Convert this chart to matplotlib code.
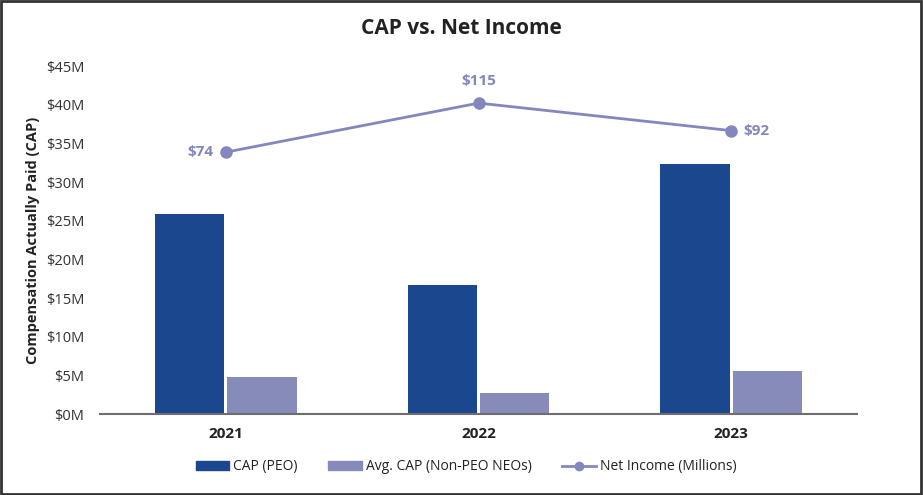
import matplotlib
matplotlib.use("Agg")
import matplotlib.pyplot as plt
import numpy as np
from matplotlib.patches import Rectangle
from matplotlib.lines import Line2D
from matplotlib.ticker import FuncFormatter

matplotlib.rcParams.update({"font.family": ["Open Sans", "DejaVu Sans"]})

years = ["2021", "2022", "2023"]
cap_peo = [25.9, 16.7, 32.3]        # $M
cap_neo = [4.8, 2.7, 5.6]           # $M
net_income = [74, 115, 92]          # $ millions

PEO_COLOR = "#1B478E"
NEO_COLOR = "#878BBA"
LINE_COLOR = "#8387BE"

fig = plt.figure(figsize=(9.23, 4.95), dpi=100)
ax = fig.add_axes([0.108, 0.1636, 0.821, 0.703])

x = np.arange(len(years))
w = 0.274
ax.bar(x - 0.143, cap_peo, width=w, color=PEO_COLOR, label="CAP (PEO)")
ax.bar(x + 0.143, cap_neo, width=w, color=NEO_COLOR, label="Avg. CAP (Non-PEO NEOs)")

ax.set_xlim(-0.5, 2.5)
ax.set_ylim(0, 45)
ax.set_yticks(np.arange(0, 46, 5))
ax.yaxis.set_major_formatter(FuncFormatter(lambda v, p: f"${v:.0f}M"))
ax.set_xticks(x)
ax.set_xticklabels(years, fontsize=11, fontweight="bold", color="#222222")
ax.tick_params(axis="both", length=0)
ax.tick_params(axis="y", labelsize=10.5, colors="#333333", pad=11)
ax.tick_params(axis="x", pad=9)
for s in ["top", "right", "left"]:
    ax.spines[s].set_visible(False)
ax.spines["bottom"].set_color("#6e6e6e")
ax.spines["bottom"].set_linewidth(1.5)
ax.set_ylabel("Compensation Actually Paid (CAP)", fontsize=10.5,
              fontweight="bold", color="#222222", labelpad=4)

ax2 = ax.twinx()
ax2.set_ylim(-145, 146)
ax2.axis("off")
ax2.plot(x, net_income, color=LINE_COLOR, linewidth=2, marker="o",
         markersize=8, label="Net Income (Millions)")
offsets = [(-9, 0, "right", "center"), (0, 11, "center", "bottom"), (9, 0, "left", "center")]
for xi, v, (dx, dy, ha, va) in zip(x, net_income, offsets):
    ax2.annotate(f"${v}", (xi, v), xytext=(dx, dy), textcoords="offset points",
                 ha=ha, va=va, fontsize=11, fontweight="bold", color=LINE_COLOR)

fig.suptitle("CAP vs. Net Income", y=0.943, va="center", fontsize=15,
             fontweight="bold", color="#222222")

handles = [
    Rectangle((0, 0), 1, 1, color=PEO_COLOR),
    Rectangle((0, 0), 1, 1, color=NEO_COLOR),
    Line2D([], [], color=LINE_COLOR, linewidth=2, marker="o", markersize=6),
]
labels = ["CAP (PEO)", "Avg. CAP (Non-PEO NEOs)", "Net Income (Millions)"]
fig.legend(handles, labels, loc="center", bbox_to_anchor=(0.505, 0.057), ncol=3,
           frameon=False, fontsize=10, handlelength=2.4, handleheight=0.6,
           handletextpad=0.3, columnspacing=2.2, labelcolor="#222222")

fig.patches.append(Rectangle((0.001, 0.002), 0.997, 0.995, transform=fig.transFigure,
                             fill=False, edgecolor="#333333", linewidth=2))

fig.savefig("out.png", dpi=100)
